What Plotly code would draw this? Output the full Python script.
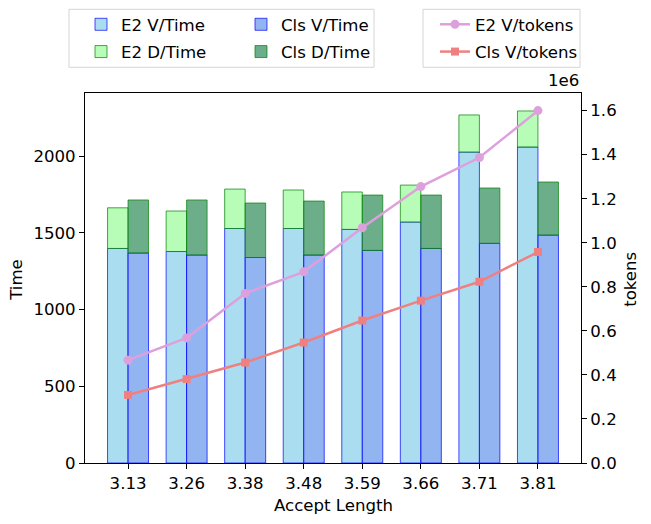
import plotly.graph_objects as go

accept_length = ["3.13", "3.26", "3.38", "3.48", "3.59", "3.66", "3.71", "3.81"]
e2_v_time = [1398, 1378, 1528, 1528, 1522, 1570, 2026, 2059]
e2_d_time = [265, 264, 257, 251, 244, 241, 242, 235]
cls_v_time = [1368, 1355, 1339, 1355, 1385, 1398, 1431, 1485]
cls_d_time = [346, 359, 355, 352, 361, 348, 361, 346]
e2_v_tokens = [467000, 568000, 770000, 868000, 1068000, 1255000, 1387000, 1600000]
cls_v_tokens = [309000, 381000, 456000, 547000, 647000, 737000, 823000, 958000]

FONT = "DejaVu Sans"
FS = 16.6
BW = 0.35

fig = go.Figure()

fig.add_trace(go.Bar(
    x=accept_length, y=e2_v_time, width=BW, offset=-BW, name="E2 V/Time",
    marker=dict(color="rgba(135,206,235,0.7)", line=dict(color="rgba(0,0,255,0.7)", width=1)),
    legend="legend", legendgroup="a", legendrank=1))
fig.add_trace(go.Bar(
    x=accept_length, y=e2_d_time, base=e2_v_time, width=BW, offset=-BW, name="E2 D/Time",
    marker=dict(color="rgba(152,251,152,0.7)", line=dict(color="rgba(0,128,0,0.7)", width=1)),
    legend="legend", legendgroup="b", legendrank=2))
fig.add_trace(go.Bar(
    x=accept_length, y=cls_v_time, width=BW, offset=0, name="Cls V/Time",
    marker=dict(color="rgba(100,149,237,0.7)", line=dict(color="rgba(0,0,255,0.7)", width=1)),
    legend="legend2", legendgroup="c", legendrank=1))
fig.add_trace(go.Bar(
    x=accept_length, y=cls_d_time, base=cls_v_time, width=BW, offset=0, name="Cls D/Time",
    marker=dict(color="rgba(46,139,87,0.7)", line=dict(color="rgba(0,128,0,0.7)", width=1)),
    legend="legend2", legendgroup="d", legendrank=2))

fig.add_trace(go.Scatter(
    x=accept_length, y=e2_v_tokens, yaxis="y2", mode="lines+markers", name="E2 V/tokens",
    line=dict(color="#DDA0DD", width=2.5), marker=dict(symbol="circle", size=9, color="#DDA0DD"),
    legend="legend3", legendgroup="e", legendrank=1))
fig.add_trace(go.Scatter(
    x=accept_length, y=cls_v_tokens, yaxis="y2", mode="lines+markers", name="Cls V/tokens",
    line=dict(color="#F08080", width=2.5), marker=dict(symbol="square", size=8, color="#F08080"),
    legend="legend3", legendgroup="f", legendrank=2))

leg_common = dict(
    xref="container", yref="container", xanchor="left", yanchor="top",
    orientation="v", bgcolor="rgba(0,0,0,0)", borderwidth=0,
    font=dict(family=FONT, size=FS, color="black"),
    traceorder="grouped", tracegroupgap=2.7, itemclick=False, itemdoubleclick=False,
)

title_font = dict(family=FONT, size=FS, color="black")

fig.update_layout(
    width=651, height=524,
    margin=dict(l=85, r=70, t=93, b=61, autoexpand=False),
    paper_bgcolor="white", plot_bgcolor="white",
    barmode="overlay",
    font=dict(family=FONT, size=FS, color="black"),
    xaxis=dict(
        type="category", range=[-0.735, 7.735], tickangle=0,
        showline=True, linecolor="black", linewidth=1, mirror=True,
        ticks="outside", ticklen=5, tickcolor="black", showgrid=False,
    ),
    yaxis=dict(
        range=[0, 2411], tickvals=[0, 500, 1000, 1500, 2000],
        showline=True, linecolor="black", linewidth=1,
        ticks="outside", ticklen=5, tickcolor="black", showgrid=False, zeroline=False,
    ),
    yaxis2=dict(
        overlaying="y", side="right", range=[0, 1680000],
        tickvals=[0, 200000, 400000, 600000, 800000, 1000000, 1200000, 1400000, 1600000],
        ticktext=["0.0", "0.2", "0.4", "0.6", "0.8", "1.0", "1.2", "1.4", "1.6"],
        showline=True, linecolor="black", linewidth=1,
        ticks="outside", ticklen=5, tickcolor="black", showgrid=False, zeroline=False,
    ),
    legend=dict(x=81 / 651, y=1 - 7 / 524, **leg_common),
    legend2=dict(x=241 / 651, y=1 - 7 / 524, **leg_common),
    legend3=dict(x=435 / 651, y=1 - 7 / 524, **leg_common),
    shapes=[
        dict(type="rect", xref="paper", yref="paper", x0=-0.0323, x1=0.5827, y0=1.0695, y1=1.2262,
             line=dict(color="#D5D5D5", width=1), fillcolor="rgba(255,255,255,0.8)", layer="below"),
        dict(type="rect", xref="paper", yref="paper", x0=0.6815, x1=0.998, y0=1.0695, y1=1.2262,
             line=dict(color="#D5D5D5", width=1), fillcolor="rgba(255,255,255,0.8)", layer="below"),
    ],
    annotations=[
        dict(text="1e6", xref="paper", yref="paper", x=1, y=1, xanchor="right", yanchor="bottom",
             yshift=1, showarrow=False, font=title_font),
        dict(text="Accept Length", xref="paper", yref="paper", x=0.5, y=(463 - 505) / 370,
             xanchor="center", yanchor="middle", showarrow=False, font=title_font),
        dict(text="Time", xref="paper", yref="paper", x=(17 - 85) / 496, y=0.495, textangle=-90,
             xanchor="center", yanchor="middle", showarrow=False, font=title_font),
        dict(text="tokens", xref="paper", yref="paper", x=(631 - 85) / 496, y=0.495, textangle=-90,
             xanchor="center", yanchor="middle", showarrow=False, font=title_font),
    ],
)

fig.write_html("out.html", config={"displayModeBar": False},
               post_script="document.body.style.margin='0';")
